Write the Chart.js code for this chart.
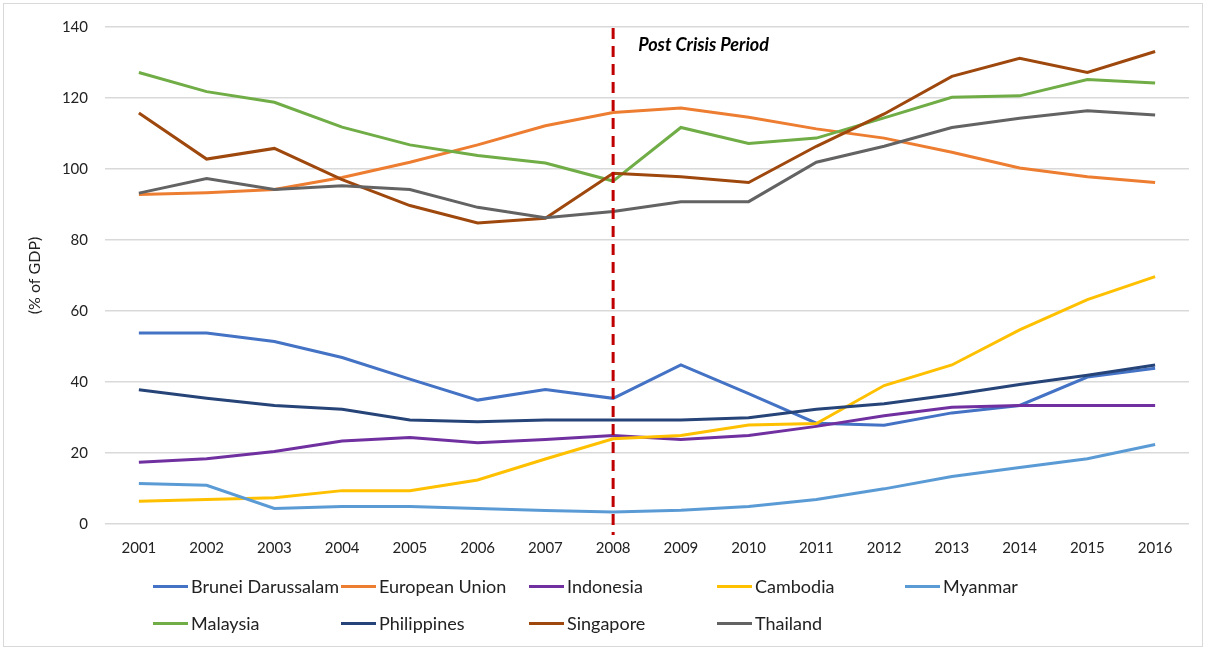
<!DOCTYPE html>
<html>
<head>
<meta charset="utf-8">
<script src="https://cdn.jsdelivr.net/npm/chart.js@4"></script>
<style>
  body { margin: 0; background: #fff; font-family: Lato, "Open Sans", sans-serif; }
  #wrap { position: relative; width: 1209px; height: 650px; }
  #frame { position: absolute; left: 3px; top: 3px; width: 1200px; height: 644px; border: 1px solid #d9d9d9; box-sizing: border-box; pointer-events: none; }
  #chart { position: absolute; left: 0; top: 0; }
  .lg { position: absolute; display: flex; align-items: center; font-size: 18px; color: #222; white-space: nowrap; }
  .lg span.mark { display: inline-block; width: 35px; height: 3px; margin-right: 3px; }
</style>
</head>
<body>
<div id="wrap">
  <canvas id="chart" width="1209" height="650"></canvas>
  <div id="frame"></div>
  <div id="legend"></div>
</div>
<script>
// années
const years = ["2001","2002","2003","2004","2005","2006","2007","2008",
               "2009","2010","2011","2012","2013","2014","2015","2016"];

// séries (% du PIB)
const brunei      = [53.8, 53.8, 51.4, 46.9, 40.8, 34.9, 37.9, 35.4, 44.8, 36.7, 28.4, 27.8, 31.3, 33.4, 41.4, 43.9];
const eu          = [92.8, 93.3, 94.2, 97.6, 101.9, 106.8, 112.2, 115.9, 117.2, 114.6, 111.3, 108.7, 104.7, 100.3, 97.8, 96.2];
const indonesia   = [17.4, 18.4, 20.4, 23.4, 24.4, 22.9, 23.8, 24.9, 23.8, 24.9, 27.5, 30.5, 32.9, 33.4, 33.4, 33.4];
const cambodia    = [6.4, 6.9, 7.4, 9.4, 9.4, 12.4, 18.3, 24.0, 24.9, 27.9, 28.3, 39.0, 44.8, 54.7, 63.2, 69.7];
const myanmar     = [11.4, 10.9, 4.4, 4.9, 4.9, 4.4, 3.8, 3.4, 3.9, 4.9, 6.9, 9.9, 13.4, 15.9, 18.4, 22.4];
const malaysia    = [127.2, 121.8, 118.8, 111.8, 106.8, 103.8, 101.7, 96.6, 111.7, 107.2, 108.7, 114.4, 120.2, 120.6, 125.2, 124.2];
const philippines = [37.8, 35.4, 33.4, 32.3, 29.3, 28.8, 29.3, 29.3, 29.3, 29.9, 32.3, 33.9, 36.4, 39.3, 41.9, 44.8];
const singapore   = [115.8, 102.8, 105.8, 97.0, 89.7, 84.8, 86.1, 98.8, 97.8, 96.2, 106.4, 115.5, 126.1, 131.2, 127.2, 133.1];
const thailand    = [93.2, 97.3, 94.2, 95.3, 94.2, 89.2, 86.3, 88.0, 90.8, 90.8, 101.9, 106.4, 111.7, 114.3, 116.4, 115.2];

const seriesNames = ["Brunei Darussalam", "European Union", "Indonesia", "Cambodia", "Myanmar",
                     "Malaysia", "Philippines", "Singapore", "Thailand"];
const seriesData = [brunei, eu, indonesia, cambodia, myanmar, malaysia, philippines, singapore, thailand];
const seriesColors = ["#4472c4", "#ed7d31", "#7030a0", "#ffc000", "#5b9bd5",
                      "#70ad47", "#264478", "#9e480e", "#636363"];

const crisisYear = "2008";
const crisisLabel = "Post Crisis Period";
const yTitle = "(% of GDP)";

const FONT = "Lato, 'Open Sans', sans-serif";

// ligne pointillée rouge + texte
const crisisLine = {
  id: "crisisLine",
  afterDatasetsDraw(c) {
    const x = c.scales.x.getPixelForValue(years.indexOf(crisisYear));
    const area = c.chartArea;
    const ctx = c.ctx;
    ctx.save();
    ctx.strokeStyle = "#c00000";
    ctx.lineWidth = 3;
    ctx.setLineDash([11, 7]);
    ctx.beginPath();
    ctx.moveTo(x, area.top + 1);
    ctx.lineTo(x, area.bottom + 11);
    ctx.stroke();
    ctx.setLineDash([]);
    ctx.fillStyle = "#000";
    ctx.font = "italic bold 18px " + FONT;
    ctx.textBaseline = "middle";
    ctx.fillText(crisisLabel, x + 25, area.top + 18);
    ctx.restore();
  }
};

const datasets = seriesNames.map((name, i) => ({
  label: name,
  data: seriesData[i],
  borderColor: seriesColors[i],
  backgroundColor: seriesColors[i],
  borderWidth: 3,
  pointRadius: 0,
  tension: 0,
  order: seriesNames.length - i
}));

new Chart(document.getElementById("chart"), {
  type: "line",
  data: { labels: years, datasets: datasets },
  options: {
    responsive: false,
    animation: false,
    layout: { padding: { left: 0, top: 27, right: 20, bottom: 86 } },
    plugins: { legend: { display: false }, tooltip: { enabled: false } },
    scales: {
      x: {
        offset: true,
        grid: { display: false, drawTicks: false },
        border: { display: false },
        ticks: { padding: 15, color: "#222", font: { family: FONT, size: 15 }, maxRotation: 0 },
        afterFit(s) { s.height = 40; }
      },
      y: {
        min: 0, max: 140,
        ticks: { stepSize: 20, padding: 17, color: "#222", font: { family: FONT, size: 15 } },
        grid: { color: "#d9d9d9", lineWidth: 1.5, drawTicks: false },
        border: { display: false },
        title: { display: true, text: yTitle, color: "#222", font: { family: FONT, size: 16 }, padding: { top: 25, bottom: 0 } },
        afterFit(s) { s.width = 105; }
      }
    }
  },
  plugins: [crisisLine]
});

// légende en grille (5 colonnes)
const legend = document.getElementById("legend");
seriesNames.forEach((name, i) => {
  const col = i % 5, row = Math.floor(i / 5);
  const div = document.createElement("div");
  div.className = "lg";
  div.style.left = (153 + col * 188) + "px";
  div.style.top = (575 + row * 37) + "px";
  div.innerHTML = `<span class="mark" style="background:${seriesColors[i]}"></span>${name}`;
  legend.appendChild(div);
});
</script>
</body>
</html>
